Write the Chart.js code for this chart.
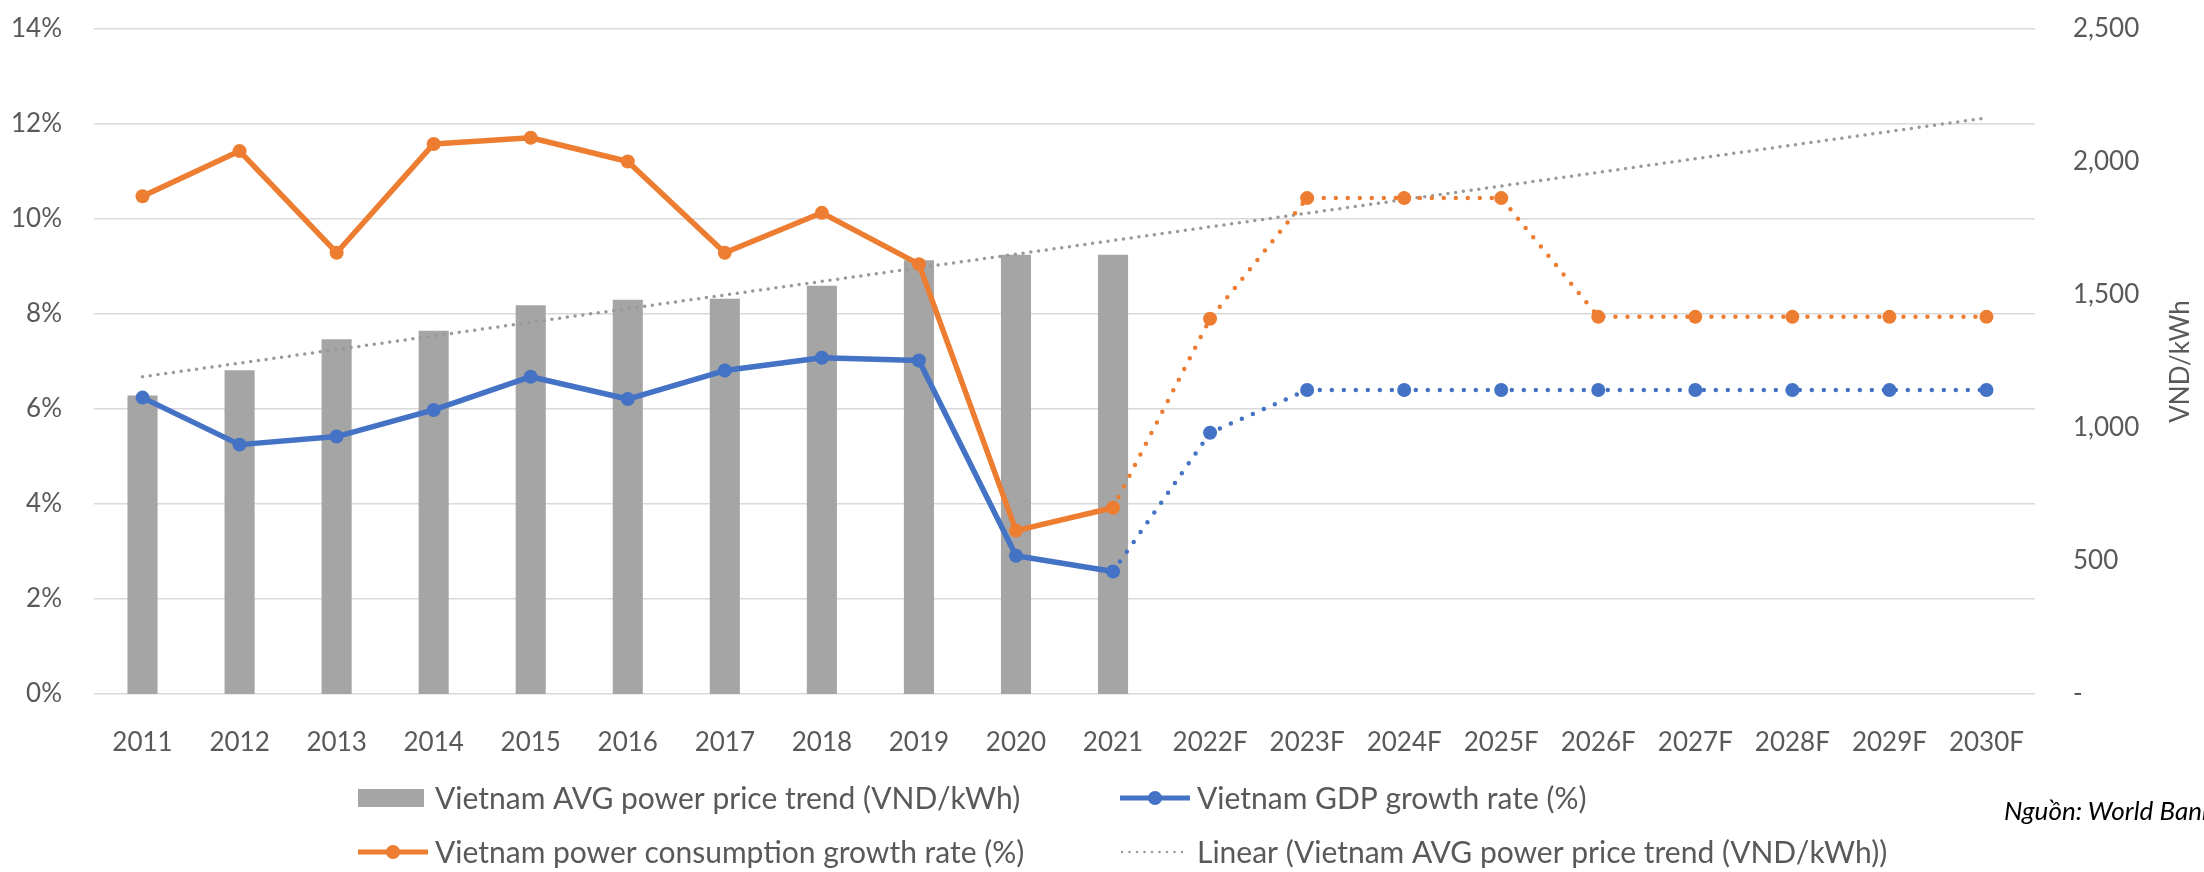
<!DOCTYPE html>
<html>
<head>
<meta charset="utf-8">
<script src="https://cdn.jsdelivr.net/npm/chart.js@4.4.1/dist/chart.umd.min.js"></script>
<style>
  html, body { margin: 0; padding: 0; background: #fff; overflow: hidden; }
  #wrap { position: relative; width: 2204px; height: 872px; }
  #src { position: absolute; left: 2004px; top: 794px; font: italic 26px Lato, sans-serif; color: #000; white-space: nowrap; }
</style>
</head>
<body>
<div id="wrap">
  <canvas id="c" width="2204" height="872"></canvas>
  <div id="src">Nguồn: World Bank</div>
</div>
<script>
// ---- data ----
const YEARS = ['2011', '2012', '2013', '2014', '2015', '2016', '2017', '2018', '2019', '2020', '2021',
  '2022F', '2023F', '2024F', '2025F', '2026F', '2027F', '2028F', '2029F', '2030F'];
// VND/kWh, actual years only
const PRICE = [1122, 1217, 1334, 1366, 1461, 1482, 1486, 1535, 1631, 1651, 1651];
// %
const GDP = [6.24, 5.25, 5.42, 5.98, 6.68, 6.21, 6.81, 7.08, 7.02, 2.91, 2.58,
  5.5, 6.4, 6.4, 6.4, 6.4, 6.4, 6.4, 6.4, 6.4];
const POWER = [10.48, 11.43, 9.29, 11.58, 11.71, 11.21, 9.29, 10.13, 9.05, 3.44, 3.92,
  7.9, 10.44, 10.44, 10.44, 7.94, 7.94, 7.94, 7.94, 7.94];
const LAST_ACTUAL = 10; // index of 2021, dotted after it

const PCT_MAX = 14, PCT_STEP = 2;
const VND_MAX = 2500, VND_STEP = 500;

// Excel "Linear" trendline: least squares fit of the price bars, extended to 2030F
const n = PRICE.length;
const mx = (n - 1) / 2;
const my = PRICE.reduce((a, b) => a + b, 0) / n;
let sxy = 0, sxx = 0;
PRICE.forEach((v, i) => { sxy += (i - mx) * (v - my); sxx += (i - mx) * (i - mx); });
const slope = sxy / sxx;
const TREND = YEARS.map((_, i) => my + slope * (i - mx));

const GREY = '#a5a5a5', BLUE = '#4472c4', ORANGE = '#ed7d31', TEXT = '#595959';

Chart.defaults.font.family = 'Lato, sans-serif';
Chart.defaults.font.size = 26;
Chart.defaults.color = TEXT;

const forecast = (a, b) => ctx => ctx.p0DataIndex >= LAST_ACTUAL ? a : b;
// tick padding would otherwise push the plot top down
const fixV = w => s => { s.width = w; s.paddingTop = 0; s.paddingBottom = 0; };

// legend in two aligned columns like the Excel original
const LEGEND = [
  {ds: 0, x: 358, y: 798},
  {ds: 1, x: 1120, y: 798},
  {ds: 2, x: 358, y: 852},
  {ds: 3, x: 1120, y: 852},
];

const extras = {
  id: 'extras',
  afterDraw(chart) {
    const c = chart.ctx;
    c.save();
    c.textBaseline = 'middle';
    LEGEND.forEach(it => {
      const d = chart.data.datasets[it.ds];
      if (d.type === 'bar') {
        c.fillStyle = d.backgroundColor;
        c.fillRect(it.x, it.y - 9, 66, 18);
      } else if (d.pointRadius === 0) {
        c.strokeStyle = d.borderColor;
        c.lineWidth = 2.5;
        c.lineCap = 'round';
        c.setLineDash([0, 7.5]);
        c.beginPath(); c.moveTo(it.x + 2, it.y); c.lineTo(it.x + 66, it.y); c.stroke();
        c.setLineDash([]);
      } else {
        c.strokeStyle = d.borderColor;
        c.lineWidth = 5;
        c.lineCap = 'butt';
        c.beginPath(); c.moveTo(it.x, it.y); c.lineTo(it.x + 70, it.y); c.stroke();
        c.fillStyle = d.borderColor;
        c.beginPath(); c.arc(it.x + 35, it.y, 7, 0, Math.PI * 2); c.fill();
      }
      c.font = '30px Lato, sans-serif';
      c.fillStyle = TEXT;
      c.textAlign = 'left';
      c.fillText(d.label, it.x + 77, it.y + 1);
    });
    // right axis title, reads bottom-to-top
    const s = chart.scales.y1;
    c.font = '26px Lato, sans-serif';
    c.translate(s.right - 23, (chart.chartArea.top + chart.chartArea.bottom) / 2);
    c.rotate(-Math.PI / 2);
    c.textAlign = 'center';
    c.fillText('VND/kWh', 0, 0);
    c.restore();
  }
};

new Chart(document.getElementById('c'), {
  data: {
    labels: YEARS,
    datasets: [
      {
        type: 'bar',
        label: 'Vietnam AVG power price trend (VND/kWh)',
        data: PRICE,
        yAxisID: 'y1',
        backgroundColor: GREY,
        borderWidth: 0,
        barPercentage: 0.31,
        categoryPercentage: 1,
        order: 4,
      },
      {
        type: 'line',
        label: 'Vietnam GDP growth rate (%)',
        data: GDP,
        yAxisID: 'y',
        borderColor: BLUE,
        backgroundColor: BLUE,
        borderWidth: 5.5,
        borderCapStyle: 'round',
        borderJoinStyle: 'round',
        pointRadius: 7,
        pointBorderWidth: 0,
        pointBackgroundColor: BLUE,
        tension: 0,
        segment: {borderDash: forecast([0, 12], undefined), borderWidth: forecast(4.5, undefined)},
        order: 2,
      },
      {
        type: 'line',
        label: 'Vietnam power consumption growth rate (%)',
        data: POWER,
        yAxisID: 'y',
        borderColor: ORANGE,
        backgroundColor: ORANGE,
        borderWidth: 5.5,
        borderCapStyle: 'round',
        borderJoinStyle: 'round',
        pointRadius: 7,
        pointBorderWidth: 0,
        pointBackgroundColor: ORANGE,
        tension: 0,
        segment: {borderDash: forecast([0, 12], undefined), borderWidth: forecast(4.5, undefined)},
        order: 1,
      },
      {
        type: 'line',
        label: 'Linear (Vietnam AVG power price trend (VND/kWh))',
        data: TREND,
        yAxisID: 'y1',
        borderColor: '#999999',
        borderWidth: 3.5,
        borderDash: [0, 7.8],
        borderCapStyle: 'round',
        pointRadius: 0,
        order: 3,
      },
    ]
  },
  options: {
    responsive: false,
    devicePixelRatio: 1,
    animation: false,
    layout: {padding: {top: 29, left: 0, right: 0, bottom: 0}},
    plugins: {legend: {display: false}, tooltip: {enabled: false}},
    scales: {
      x: {
        offset: true,
        grid: {display: false},
        border: {display: false},
        ticks: {padding: 25, maxRotation: 0, autoSkip: false},
        afterFit: s => { s.height = 178; },
      },
      y: {
        position: 'left',
        min: 0, max: PCT_MAX,
        ticks: {stepSize: PCT_STEP, padding: 32, callback: v => v + '%'},
        grid: {color: '#d9d9d9', lineWidth: 1.5, drawTicks: false},
        border: {display: false},
        afterFit: fixV(94),
      },
      y1: {
        position: 'right',
        min: 0, max: VND_MAX,
        ticks: {stepSize: VND_STEP, padding: 38,
          callback: v => v === 0 ? '-' : v.toLocaleString('en-US')},
        grid: {display: false, drawTicks: false},
        border: {display: false},
        afterFit: fixV(169),
      }
    }
  },
  plugins: [extras]
});
</script>
</body>
</html>
